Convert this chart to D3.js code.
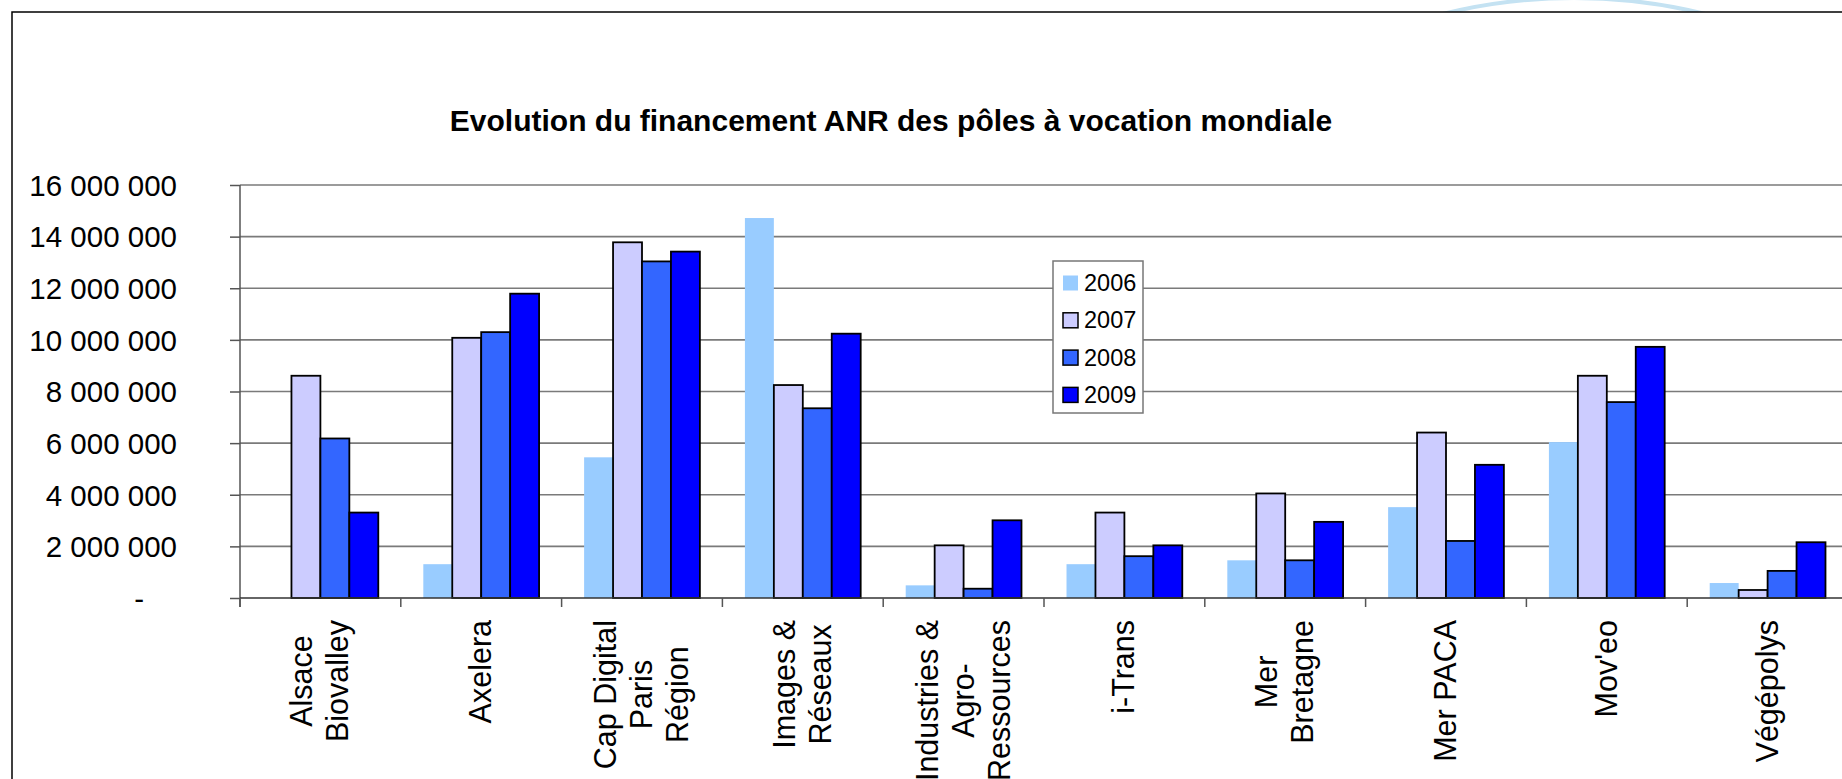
<!DOCTYPE html>
<html>
<head>
<meta charset="utf-8">
<script src="https://cdn.jsdelivr.net/npm/d3@7"></script>
<style>
  html, body { margin: 0; padding: 0; background: #fff; }
  svg { display: block; }
  text { font-family: "Liberation Sans", Arial, sans-serif; fill: #000; }
</style>
</head>
<body>
<svg id="chart" width="1842" height="779"></svg>
<script>
// ---- Data ----
const categories = [
  ["Alsace", "Biovalley"],
  ["Axelera"],
  ["Cap Digital", "Paris", "Région"],
  ["Images &", "Réseaux"],
  ["Industries &", "Agro-", "Ressources"],
  ["i-Trans"],
  ["Mer", "Bretagne"],
  ["Mer PACA"],
  ["Mov'eo"],
  ["Végépolys"]
];
const years = ["2006", "2007", "2008", "2009"];
const values2006 = [0, 1310000, 5450000, 14720000, 490000, 1310000, 1460000, 3520000, 6040000, 580000];
const values2007 = [8610000, 10080000, 13780000, 8250000, 2040000, 3310000, 4050000, 6410000, 8610000, 310000];
const values2008 = [6180000, 10300000, 13040000, 7350000, 360000, 1620000, 1460000, 2210000, 7590000, 1050000];
const values2009 = [3310000, 11790000, 13420000, 10240000, 3010000, 2040000, 2950000, 5160000, 9730000, 2160000];
const tickValues = [0, 2000000, 4000000, 6000000, 8000000, 10000000, 12000000, 14000000, 16000000];
const tickLabels = ["-", "2 000 000", "4 000 000", "6 000 000", "8 000 000", "10 000 000", "12 000 000", "14 000 000", "16 000 000"];
const title = "Evolution du financement ANR des pôles à vocation mondiale";

const series = [values2006, values2007, values2008, values2009];
const colors = ["#99CCFF", "#CCCCFF", "#3366FF", "#0000FF"];
const strokes = [null, "#000", "#000", "#000"];

// ---- Layout ----
const svg = d3.select("#chart");
const plotLeft = 240, plotRight = 1848, plotTop = 185, plotBottom = 598;
const catKeys = categories.map((c, i) => i);

const x = d3.scaleBand().domain(catKeys).range([plotLeft, plotRight]).paddingInner(0.28).paddingOuter(0.14);
const step = x.step();
const xInner = d3.scaleBand().domain(years).range([0, x.bandwidth()]).padding(0);
const y = d3.scaleLinear().domain([0, 16000000]).range([plotBottom, plotTop]);

// background decoration (light blue arc at top right)
svg.append("defs").append("clipPath").attr("id", "topclip")
  .append("rect").attr("x", 0).attr("y", 0).attr("width", 1842).attr("height", 12);
svg.append("circle").attr("cx", 1574).attr("cy", 544).attr("r", 546)
  .attr("fill", "none").attr("stroke", "#c4e2f2").attr("stroke-width", 4)
  .attr("clip-path", "url(#topclip)");

// chart border
svg.append("path").attr("d", "M12,779 L12,12 L1842,12")
  .attr("fill", "none").attr("stroke", "#000").attr("stroke-width", 1.5);

// title
svg.append("text").attr("x", 891).attr("y", 131)
  .attr("text-anchor", "middle").attr("font-weight", "bold").attr("font-size", 30)
  .text(title);

// gridlines
const gridG = svg.append("g");
gridG.selectAll("line").data(tickValues.filter(v => v > 0)).join("line")
  .attr("x1", plotLeft).attr("x2", plotRight)
  .attr("y1", d => y(d)).attr("y2", d => y(d))
  .attr("stroke", "#7a7a7a").attr("stroke-width", 1.6);

// y axis
const yAxis = d3.axisLeft(y).tickValues(tickValues).tickSize(10)
  .tickFormat((d, i) => tickLabels[i]);
const yG = svg.append("g").attr("transform", `translate(${plotLeft},0)`).call(yAxis);
yG.select(".domain").remove();
yG.selectAll(".tick line").attr("stroke", "#555").attr("stroke-width", 1.5);
yG.selectAll(".tick text")
  .attr("font-size", 29.5).attr("x", -63).attr("dy", "0.35em")
  .style("font-family", '"Liberation Sans", Arial, sans-serif');
yG.selectAll(".tick text").filter((d) => d === 0).attr("x", -96);
svg.append("line").attr("x1", plotLeft).attr("x2", plotLeft)
  .attr("y1", plotTop).attr("y2", plotBottom + 9)
  .attr("stroke", "#555").attr("stroke-width", 1.5);

// bars
const barG = svg.append("g");
series.forEach((vals, si) => {
  barG.selectAll(`rect.s${si}`).data(vals.map((v, i) => ({v, i}))).join("rect")
    .attr("class", `s${si}`)
    .attr("x", d => x(d.i) + xInner(years[si]))
    .attr("width", xInner.bandwidth())
    .attr("y", d => y(d.v))
    .attr("height", d => y(0) - y(d.v))
    .attr("fill", colors[si])
    .attr("stroke", d => (strokes[si] && d.v > 0) ? strokes[si] : "none")
    .attr("stroke-width", 1.8);
});

// x axis line & ticks
svg.append("line").attr("x1", plotLeft).attr("x2", plotRight)
  .attr("y1", plotBottom).attr("y2", plotBottom)
  .attr("stroke", "#333").attr("stroke-width", 1.5);
const boundaries = catKeys.map(i => x(i) - x.step() * x.paddingInner() / 2 - (i === 0 ? 0 : 0));
const tickXs = catKeys.map(i => plotLeft + i * step).concat([plotRight]);
svg.append("g").selectAll("line").data(tickXs).join("line")
  .attr("x1", d => d).attr("x2", d => d)
  .attr("y1", plotBottom).attr("y2", plotBottom + 9)
  .attr("stroke", "#555").attr("stroke-width", 1.5);

// x labels (rotated, multi-line, block top at y=620)
const lh = 36;
const labelTop = 620;
const labG = svg.append("g");
categories.forEach((lines, i) => {
  const cx = x(i) + x.bandwidth() / 2;
  const n = lines.length;
  const texts = lines.map((ln, j) => {
    return labG.append("text")
      .attr("font-size", 30.5)
      .attr("text-anchor", "middle")
      .attr("dominant-baseline", "central")
      .text(ln);
  });
  const maxLen = d3.max(texts, t => t.node().getComputedTextLength());
  texts.forEach((t, j) => {
    const lx = cx + (j - (n - 1) / 2) * lh - 1;
    const ly = labelTop + maxLen / 2;
    t.attr("transform", `translate(${lx},${ly}) rotate(-90)`);
  });
});

// legend
const legX = 1053, legY = 261, legW = 90, legH = 152;
const legG = svg.append("g");
legG.append("rect").attr("x", legX).attr("y", legY).attr("width", legW).attr("height", legH)
  .attr("fill", "#fff").attr("stroke", "#777").attr("stroke-width", 1.5);
years.forEach((yr, k) => {
  const cy = 283 + k * 37.3;
  legG.append("rect").attr("x", 1063).attr("y", cy - 7.5).attr("width", 15).attr("height", 15)
    .attr("fill", colors[k])
    .attr("stroke", strokes[k] || "none").attr("stroke-width", 1.5);
  legG.append("text").attr("x", 1084).attr("y", cy)
    .attr("dominant-baseline", "central").attr("font-size", 23.5).text(yr);
});
</script>
</body>
</html>
